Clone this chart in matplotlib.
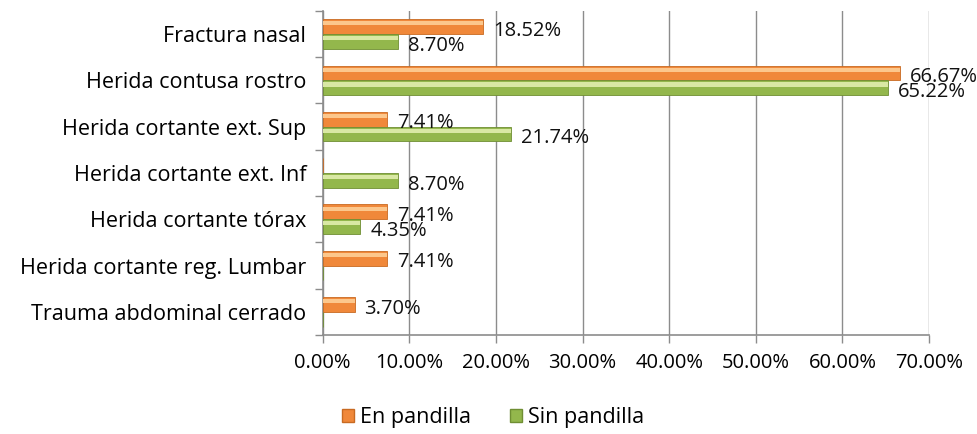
import numpy as np
import matplotlib
matplotlib.use("Agg")
from matplotlib import pyplot as plt
from matplotlib.ticker import FixedLocator, FuncFormatter
from matplotlib.patches import Patch

categories = ["Fractura nasal", "Herida contusa rostro", "Herida cortante ext. Sup",
              "Herida cortante ext. Inf", "Herida cortante tórax",
              "Herida cortante reg. Lumbar", "Trauma abdominal cerrado"]
en_pandilla = [18.52, 66.67, 7.41, 0.0, 7.41, 7.41, 3.70]
sin_pandilla = [8.70, 65.22, 21.74, 8.70, 4.35, 0.0, 0.0]
series_names = ["En pandilla", "Sin pandilla"]
x_ticks = [0, 10, 20, 30, 40, 50, 60, 70]

plt.rcParams['font.family'] = ['Open Sans', 'DejaVu Sans']
fs = 15.5      # category labels / legend
fs_num = 14.5  # numbers

orange, orange_hi, orange_dk = "#F0883A", "#FCC78C", "#C86A22"
green, green_hi, green_dk = "#93B74C", "#D9E8A4", "#6F8E33"

fig = plt.figure(figsize=(9.78, 4.34), dpi=100)
ax = fig.add_axes([0.330, 0.228, 0.620, 0.747])

n = len(categories)
y = np.arange(n)[::-1].astype(float)  # first category at top
h = 0.32

# orange above green inside each category
for vals, off, c, hi, dk in [(en_pandilla, h / 2, orange, orange_hi, orange_dk),
                             (sin_pandilla, -h / 2, green, green_hi, green_dk)]:
    ax.barh(y + off, vals, height=h, color=c, edgecolor=dk, linewidth=0.6, zorder=3)
    # light bevel strip on top of each bar
    ax.barh(y + off + h * 0.22, vals, height=h * 0.28, color=hi, linewidth=0, zorder=4)
    for yi, v in zip(y + off, vals):
        if v > 0:
            ax.annotate(f"{v:.2f}%", (v, yi), xytext=(7, -3), textcoords="offset points",
                        ha="left", va="center", fontsize=fs_num, color="#111111", zorder=5,
                        annotation_clip=False)

ax.set_xlim(0, 70)
ax.set_ylim(-0.5, n - 0.5)
ax.xaxis.set_major_locator(FixedLocator(x_ticks))
ax.xaxis.set_major_formatter(FuncFormatter(lambda v, p: f"{v:.2f}%"))
ax.grid(axis="x", color="#8C8C8C", linewidth=1.0, zorder=0)

ax.set_yticks(y)
ax.set_yticklabels(categories)
ax.set_yticks(np.arange(n + 1) - 0.5, minor=True)
ax.tick_params(axis="y", which="major", length=0, pad=12, labelsize=fs)
ax.tick_params(axis="y", which="minor", length=6, width=1, color="#8C8C8C")
ax.tick_params(axis="x", length=6, width=1, color="#8C8C8C", pad=7, labelsize=fs_num)

for s in ["top", "right"]:
    ax.spines[s].set_visible(False)
for s in ["left", "bottom"]:
    ax.spines[s].set_color("#8C8C8C")
    ax.spines[s].set_linewidth(1.2)

handles = [Patch(facecolor=orange, edgecolor=orange_dk), Patch(facecolor=green, edgecolor=green_dk)]
fig.legend(handles, series_names, loc="center", bbox_to_anchor=(0.504, 0.037), ncol=2,
           frameon=False, fontsize=fs, handlelength=0.55, handleheight=0.55,
           handletextpad=0.3, columnspacing=1.8)

fig.savefig("out.png", dpi=100)
